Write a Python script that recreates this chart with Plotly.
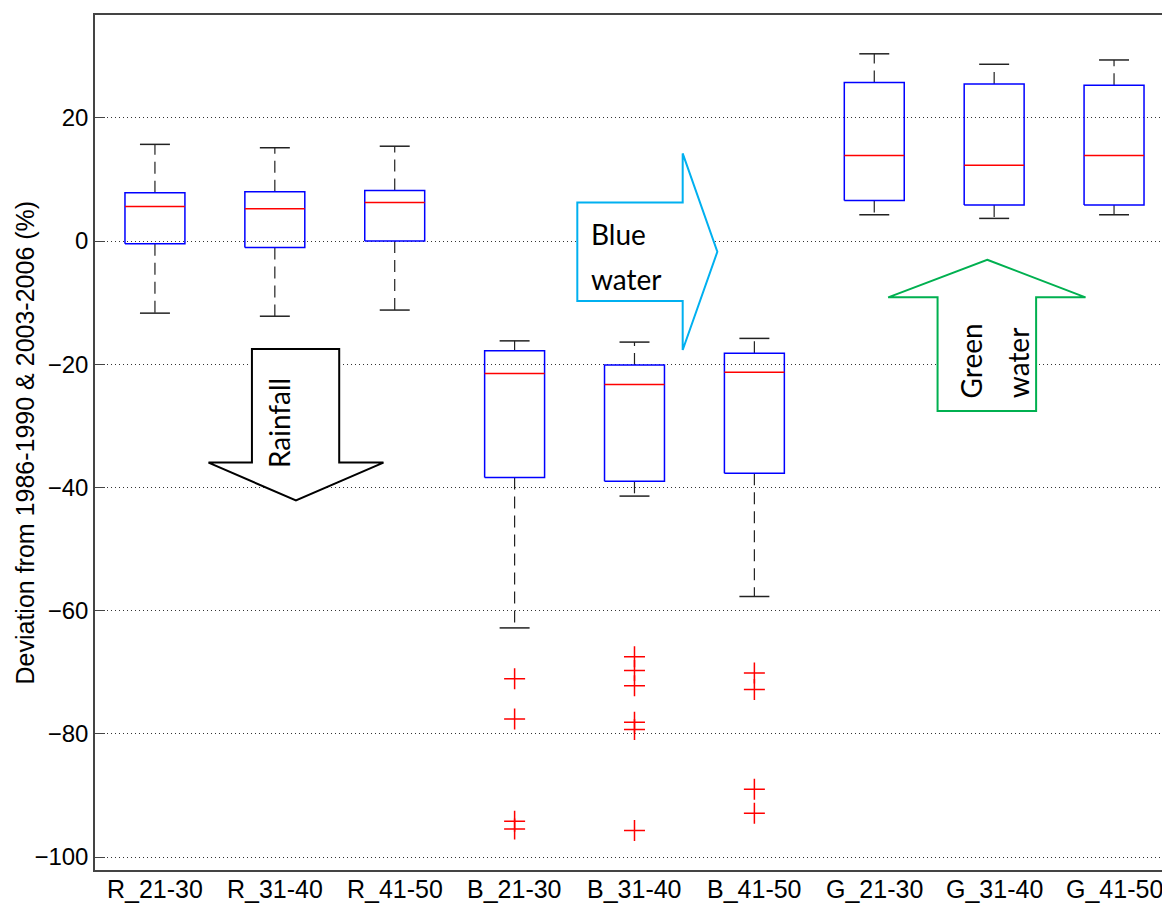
import plotly.graph_objects as go

# Scenario groups: R = rainfall, B = blue water, G = green water
categories = ["R_21-30", "R_31-40", "R_41-50",
              "B_21-30", "B_31-40", "B_41-50",
              "G_21-30", "G_31-40", "G_41-50"]

# Box-plot statistics (% deviation) per category
lower_whisker = [-11.7, -12.2, -11.2, -62.8, -41.4, -57.7, 4.27, 3.68, 4.27]
q1 = [-0.44, -1.03, 0.0, -38.4, -39.0, -37.7, 6.6, 5.84, 5.84]
median = [5.63, 5.25, 6.28, -21.5, -23.3, -21.3, 13.9, 12.3, 13.9]
q3 = [7.84, 8.0, 8.2, -17.8, -20.1, -18.2, 25.76, 25.5, 25.3]
upper_whisker = [15.7, 15.15, 15.4, -16.2, -16.4, -15.8, 30.4, 28.7, 29.4]

# Outliers: category index (1-based) and value
outlier_pos = [4, 4, 4, 4,
               5, 5, 5, 5, 5, 5,
               6, 6, 6, 6]
outlier_val = [-71.05, -77.6, -94.2, -95.45,
               -67.5, -69.7, -72.2, -78.1, -79.3, -95.7,
               -70.1, -72.8, -89.0, -92.9]

y_ticks = [-100, -80, -60, -40, -20, 0, 20]

BOX_HW = 0.25   # half width of a box, in category units
CAP_HW = 0.125  # half width of a whisker cap

positions = list(range(1, len(categories) + 1))

wx, wy, cx, cy, bx, by, mx, my = [], [], [], [], [], [], [], []
for p, lo, a, m, b, hi in zip(positions, lower_whisker, q1, median, q3, upper_whisker):
    # dashed whiskers
    wx += [p, p, None, p, p, None]
    wy += [b, hi, None, a, lo, None]
    # caps
    cx += [p - CAP_HW, p + CAP_HW, None, p - CAP_HW, p + CAP_HW, None]
    cy += [hi, hi, None, lo, lo, None]
    # box outline
    bx += [p - BOX_HW, p + BOX_HW, p + BOX_HW, p - BOX_HW, p - BOX_HW, None]
    by += [a, a, b, b, a, None]
    # median
    mx += [p - BOX_HW, p + BOX_HW, None]
    my += [m, m, None]

fig = go.Figure()
fig.add_trace(go.Scatter(x=wx, y=wy, mode="lines", hoverinfo="skip",
                         line=dict(color="#222", width=1.2, dash="12px,7px")))
fig.add_trace(go.Scatter(x=cx, y=cy, mode="lines", hoverinfo="skip",
                         line=dict(color="#222", width=1.5)))
fig.add_trace(go.Scatter(x=bx, y=by, mode="lines", hoverinfo="skip",
                         line=dict(color="#0000FF", width=1.5)))
fig.add_trace(go.Scatter(x=mx, y=my, mode="lines", hoverinfo="skip",
                         line=dict(color="#FF0000", width=1.5)))
fig.add_trace(go.Scatter(x=outlier_pos, y=outlier_val, mode="markers",
                         marker=dict(symbol="cross-thin", size=15,
                                     line=dict(color="#FF0000", width=1.5))))


def polygon(points):
    return "M " + " L ".join(f"{x},{y}" for x, y in points) + " Z"


rain_arrow = [(1.809, -17.52), (2.537, -17.52), (2.537, -35.96), (2.906, -35.96),
              (2.176, -42.12), (1.447, -35.96), (1.809, -35.96)]
blue_arrow = [(4.523, 6.28), (5.402, 6.28), (5.402, 14.23), (5.691, -1.74),
              (5.402, -17.68), (5.402, -9.73), (4.523, -9.73)]
green_arrow = [(7.942, -3.03), (8.762, -9.13), (8.350, -9.13), (8.350, -27.57),
               (7.528, -27.57), (7.528, -9.13), (7.116, -9.13)]

shapes = []
for pts, col in [(rain_arrow, "#000000"), (blue_arrow, "#00B0F0"), (green_arrow, "#00B050")]:
    shapes.append(dict(type="path", xref="x", yref="y", path=polygon(pts),
                       line=dict(color=col, width=2), fillcolor="white", layer="above"))

axis_font = dict(family="Arial, Liberation Sans, sans-serif", size=24, color="black")
label_font = dict(family="Lato, Open Sans, sans-serif", size=28, color="black")
annotations = [
    dict(text="Rainfall", x=2.036, y=-37.15, xref="x", yref="y", textangle=-90,
         xanchor="center", yanchor="bottom", showarrow=False, font=label_font),
    dict(text="Blue", x=4.618, y=1.14, xref="x", yref="y",
         xanchor="left", yanchor="middle", showarrow=False, font=label_font),
    dict(text="water", x=4.618, y=-6.16, xref="x", yref="y",
         xanchor="left", yanchor="middle", showarrow=False, font=label_font),
    dict(text="Green", x=7.806, y=-25.8, xref="x", yref="y", textangle=-90,
         xanchor="center", yanchor="bottom", showarrow=False, font=label_font),
    dict(text="water", x=8.196, y=-25.8, xref="x", yref="y", textangle=-90,
         xanchor="center", yanchor="bottom", showarrow=False, font=label_font),
    dict(text="Deviation from 1986-1990 & 2003-2006 (%)", x=0, y=0.5,
         xref="paper", yref="paper", xshift=-71, textangle=-90,
         xanchor="center", yanchor="middle", showarrow=False,
         font=dict(family="Arial, Liberation Sans, sans-serif", size=25, color="black")),
]
# Category labels under the axis
for p, name in zip(positions, categories):
    annotations.append(dict(text=name, x=p, y=0, xref="x", yref="paper",
                            xanchor="center", yanchor="middle", yshift=-19,
                            showarrow=False, font=dict(axis_font, size=25)))

fig.update_layout(
    width=1162, height=903,
    margin=dict(l=95, r=0, t=15, b=33, autoexpand=False),
    plot_bgcolor="white", paper_bgcolor="white",
    showlegend=False,
    shapes=shapes,
    annotations=annotations,
    xaxis=dict(range=[0.5, 9.4], tickmode="array", tickvals=positions,
               showticklabels=False,
               showline=True, mirror=True, linecolor="#444", linewidth=1.5,
               ticks="", showgrid=False, zeroline=False, automargin=False),
    yaxis=dict(range=[-102.1, 36.7], tickmode="array", tickvals=y_ticks,
               showline=True, linecolor="#444", linewidth=1.5,
               ticks="inside", ticklen=10, tickcolor="#444", tickwidth=1.2,
               showgrid=True, gridcolor="#333", gridwidth=1, griddash="1px,3px",
               zeroline=False, automargin=False,
               tickfont=axis_font),
)

fig.write_html("out.html")
